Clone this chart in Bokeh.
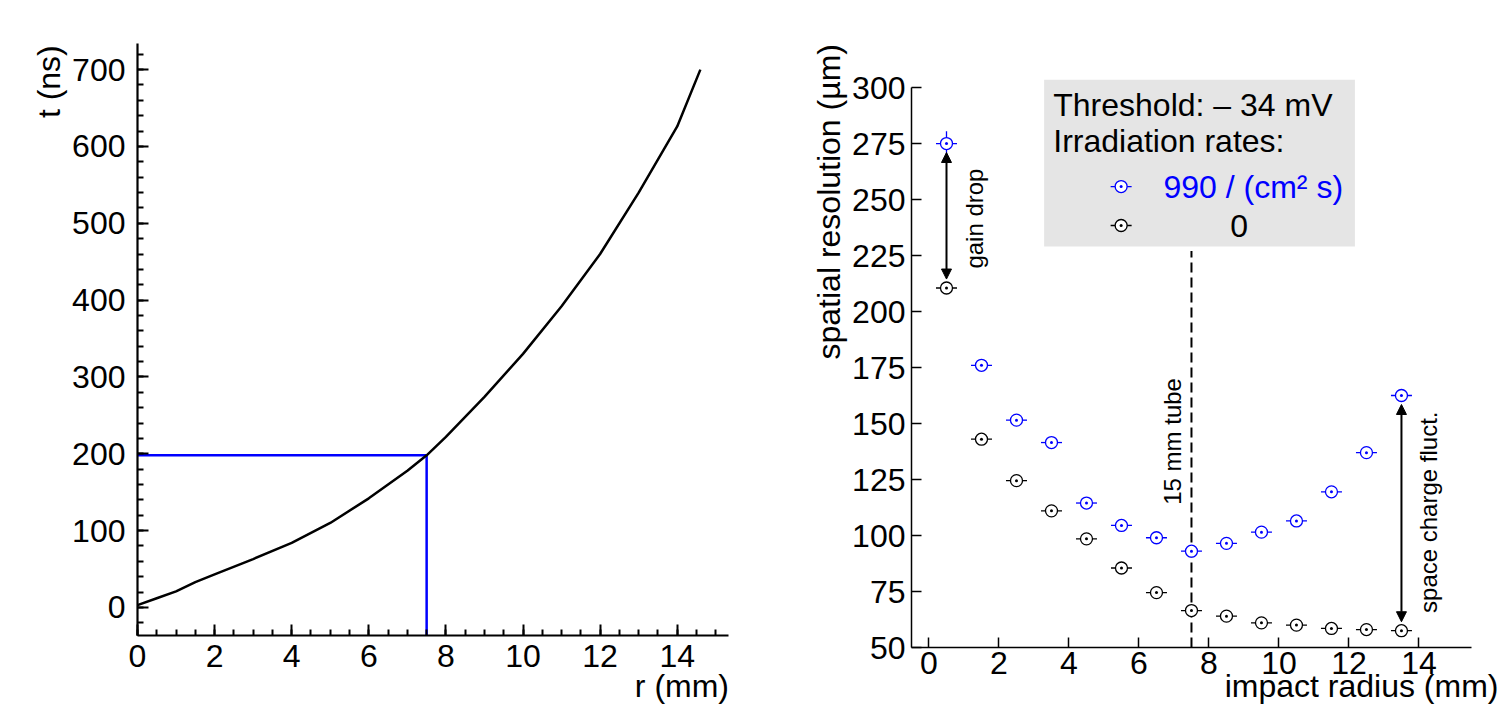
import math
from bokeh.plotting import figure
from bokeh.layouts import row
from bokeh.models import (SingleIntervalTicker, Label, Arrow, NormalHead, Range1d)
from bokeh.embed import file_html
from bokeh.resources import INLINE

FONT = "Liberation Sans"
NB = "\u00a0"

# ---------------- data: left panel (drift time vs radius) ----------------
r_mm = [0, 0.5, 1.0, 1.5, 2.0, 3.0, 4.0, 5.0, 6.0, 7.0, 7.5, 8.0, 9.0, 10.0, 11.0, 12.0, 13.0, 14.0, 14.6]
t_ns = [3, 12, 21, 33, 43, 63, 84, 110, 142, 178, 198, 222, 274, 330, 392, 460, 540, 626, 700]
r_mark = 7.5
t_mark = 198

# ---------------- data: right panel (spatial resolution) ----------------
radius = [0.5, 1.5, 2.5, 3.5, 4.5, 5.5, 6.5, 7.5, 8.5, 9.5, 10.5, 11.5, 12.5, 13.5]
res_990 = [275, 176, 151.5, 141.5, 114.5, 104.5, 99, 93, 96.5, 101.5, 106.5, 119.5, 137, 162.5]
err_990 = [5.5, 2.5, 2, 2, 1.5, 1.5, 1.5, 1.5, 1.5, 1.5, 1.5, 1.5, 1.5, 2]
res_0 = [210.5, 143, 124.5, 111, 98.5, 85.5, 74.5, 66.5, 64, 61, 60, 58.5, 58, 57.5]
err_0 = [1, 1, 1, 1, 1, 1, 1, 1, 1, 1, 1, 1, 1, 1]
xerr = 0.3
tube_edge = 7.5

BLUE = "#0000ff"
H = 711


def style_axes(p, size):
    for ax in (p.xaxis[0], p.yaxis[0]):
        ax.major_label_text_font = FONT
        ax.major_label_text_font_size = size
        ax.major_label_text_color = "black"
        ax.axis_label_text_font = FONT
        ax.axis_label_text_font_size = size
        ax.axis_label_text_font_style = "normal"
        ax.axis_label_text_color = "black"
        ax.axis_line_color = "black"
        ax.major_tick_line_color = "black"
        ax.minor_tick_line_color = "black"
        ax.major_tick_out = 0
        ax.minor_tick_out = 0


# ================= LEFT FIGURE =================
p1 = figure(width=768, height=H, output_backend="svg", toolbar_location=None,
            x_range=Range1d(0, 15.33), y_range=Range1d(-36.5, 734),
            min_border_left=137, min_border_right=40, min_border_top=43, min_border_bottom=H - 635)
p1.frame_align = False
p1.outline_line_color = None
p1.grid.visible = False
p1.xaxis.ticker = SingleIntervalTicker(interval=2, num_minor_ticks=4)
p1.yaxis.ticker = SingleIntervalTicker(interval=100, num_minor_ticks=5)
# labels are pushed to the end of each axis with leading no-break spaces
p1.xaxis.axis_label = NB * 56 + "r (mm)"
p1.yaxis.axis_label = NB * 58 + "t (ns)"
style_axes(p1, "32px")
for ax in (p1.xaxis[0], p1.yaxis[0]):
    ax.axis_line_width = 2.2
    ax.major_tick_line_width = 2
    ax.minor_tick_line_width = 2
    ax.major_tick_in = 11
    ax.minor_tick_in = 6
p1.yaxis.major_label_standoff = 12
p1.xaxis.major_label_standoff = 9
p1.xaxis.axis_label_standoff = -2
p1.yaxis.axis_label_standoff = 2

p1.line([0, r_mark], [t_mark, t_mark], line_color=BLUE, line_width=2.5)
p1.line([r_mark, r_mark], [-36.5, t_mark], line_color=BLUE, line_width=2.5)
p1.line(r_mm, t_ns, line_color="black", line_width=2.5)

# ================= RIGHT FIGURE =================
p2 = figure(width=735, height=H, output_backend="svg", toolbar_location=None,
            x_range=Range1d(-0.5, 16.33), y_range=Range1d(50, 321),
            min_border_left=143, min_border_right=3, min_border_top=40, min_border_bottom=H - 647)
p2.frame_align = False
p2.outline_line_color = None
p2.grid.visible = False
p2.xaxis.ticker = SingleIntervalTicker(interval=2, num_minor_ticks=0)
p2.yaxis.ticker = SingleIntervalTicker(interval=25, num_minor_ticks=0)
p2.yaxis.bounds = (50, 300)
p2.xaxis.bounds = (-0.5, 15.5)
p2.xaxis.axis_label = NB * 35 + "impact radius (mm)"
p2.yaxis.axis_label = NB * 32 + "spatial resolution (\u00b5m)"
style_axes(p2, "32px")
for ax in (p2.xaxis[0], p2.yaxis[0]):
    ax.axis_line_width = 1.5
    ax.major_tick_line_width = 1.5
    ax.major_tick_in = 10
p2.yaxis.major_label_standoff = 6
p2.xaxis.major_label_standoff = 4
p2.xaxis.axis_label_standoff = -9
p2.yaxis.axis_label_standoff = 2

# legend box
p2.quad(left=[3.29], right=[12.17], bottom=[229], top=[303.5], fill_color="#e5e5e5", line_color=None)

# dashed tube line
p2.line([tube_edge, tube_edge], [50, 227], line_color="black", line_width=2, line_dash="10 5")


def series(xs, ys, es, color):
    p2.segment(x0=[x - xerr for x in xs], x1=[x + xerr for x in xs], y0=ys, y1=ys,
               line_color=color, line_width=1.3)
    p2.segment(x0=xs, x1=xs, y0=[y - e for y, e in zip(ys, es)], y1=[y + e for y, e in zip(ys, es)],
               line_color=color, line_width=1.3)
    p2.scatter(xs, ys, marker="circle_dot", size=12, fill_color="white", line_color=color,
               line_width=1.3)


series(radius, res_990, err_990, BLUE)
series(radius, res_0, err_0, "black")

# legend markers
series([5.49], [255.8], [2.5], BLUE)
series([5.49], [238.4], [1], "black")

lab = dict(text_font=FONT, text_font_size="32px", text_baseline="middle", text_color="black")
p2.add_layout(Label(x=3.55, y=292.3, text="Threshold: \u2013 34 mV", text_align="left", **lab))
p2.add_layout(Label(x=3.55, y=276.2, text="Irradiation rates:", text_align="left", **lab))
lab_blue = dict(lab, text_color=BLUE)
p2.add_layout(Label(x=6.7, y=255.8, text="990 / (cm\u00b2 s)", text_align="left", **lab_blue))
p2.add_layout(Label(x=8.86, y=238.4, text="0", text_align="center", **lab))

# arrows
gap = 4.0
for top_v, bot_v, xv in ((res_990[0], res_0[0], radius[0]), (res_990[-1], res_0[-1], radius[-1])):
    p2.add_layout(Arrow(x_start=xv, y_start=bot_v + gap, x_end=xv, y_end=top_v - gap,
                        start=NormalHead(size=10, fill_color="black", line_color="black"),
                        end=NormalHead(size=10, fill_color="black", line_color="black"),
                        line_width=2))

ann = dict(text_font=FONT, text_font_size="24px", angle=math.pi / 2, text_color="black",
           text_align="center", text_baseline="middle")
p2.add_layout(Label(x=1.29, y=241.5, text="gain drop", **ann))
p2.add_layout(Label(x=6.97, y=142, text="15 mm tube", **ann))
p2.add_layout(Label(x=14.26, y=110.4, text="space charge fluct.", **ann))

layout = row(p1, p2)
open("out.html", "w").write(file_html(layout, INLINE))
